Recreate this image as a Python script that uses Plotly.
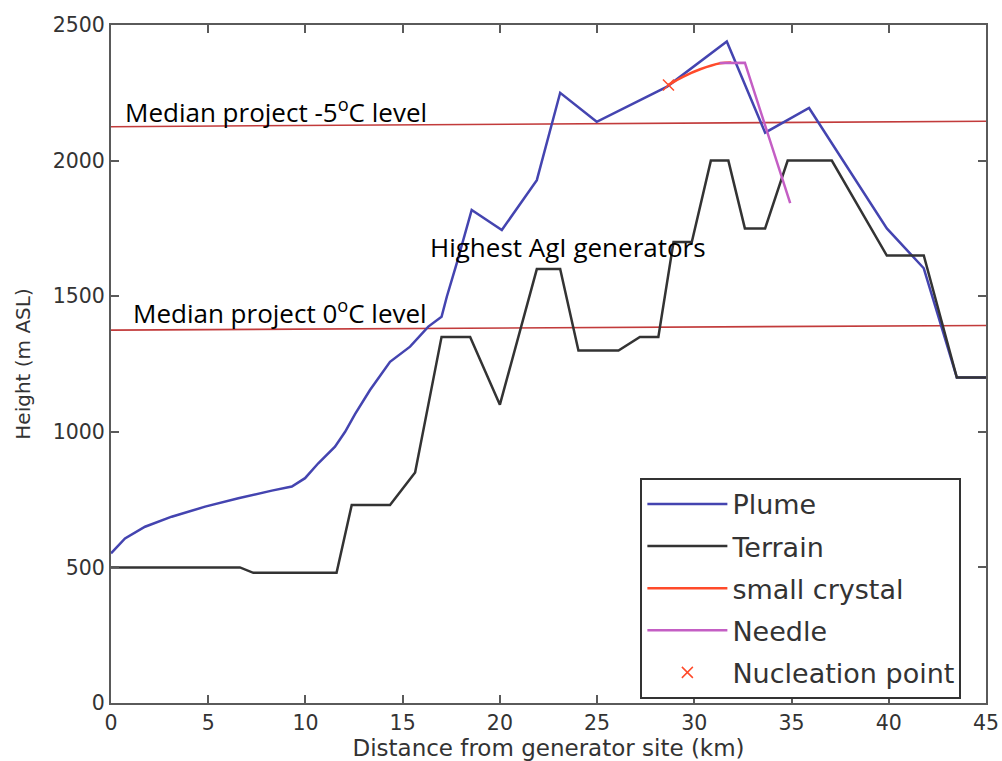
import plotly.graph_objects as go

# ── Data ──────────────────────────────────────────────────────────────────────
plume_x = [0, 0.72, 1.75, 3.12, 4.84, 6.55, 8.27, 9.3, 9.98, 10.66, 11.52,
           12.04, 12.55, 13.32, 14.35, 15.38, 16.32, 17.0, 17.27, 17.78, 18.55,
           20.1, 21.9, 23.1, 24.98, 28.6, 31.67, 33.64, 35.9, 39.9, 41.8,
           43.5, 45]
plume_h = [552, 607, 650, 687, 724, 755, 783, 798, 829, 884, 945,
           1000, 1065, 1154, 1258, 1314, 1388, 1424, 1498, 1621, 1818,
           1744, 1928, 2250, 2143, 2273, 2439, 2103, 2194, 1750, 1603,
           1200, 1200]

terrain_x = [0, 6.63, 7.32, 11.6, 12.38, 14.35, 15.64, 17.0, 18.47, 20.0,
             21.9, 23.1, 24.04, 26.1, 27.2, 28.15, 28.93, 29.87, 30.85, 31.75,
             32.6, 33.64, 34.8, 37.07, 39.9, 41.8, 43.5, 45]
terrain_h = [500, 500, 480, 480, 730, 730, 850, 1350, 1350, 1100,
             1600, 1600, 1300, 1300, 1350, 1350, 1700, 1700, 2000, 2000,
             1750, 1750, 2000, 2000, 1650, 1650, 1200, 1200]

crystal_x = [28.67, 29.44, 30.3, 31.33, 31.9]
crystal_h = [2279, 2310, 2337, 2359, 2362]

needle_x = [31.3, 32.6, 34.93]
needle_h = [2360, 2361, 1843]

nucleation_x = [28.67]
nucleation_h = [2279]

# freezing-level reference lines (slightly tilted in the original)
level_x = [0, 45]
level_m5_h = [2125, 2145]
level_0_h = [1375, 1392]

C = {
    "plume":   "#4444b0",
    "terrain": "#333333",
    "crystal": "#ff4a2a",
    "needle":  "#c45ec4",
    "level":   "#c23b3b",
    "axis":    "#5a5a5a",
}

fig = go.Figure()

fig.add_trace(go.Scatter(x=level_x, y=level_m5_h, mode="lines",
                         line=dict(color=C["level"], width=1.6), showlegend=False))
fig.add_trace(go.Scatter(x=level_x, y=level_0_h, mode="lines",
                         line=dict(color=C["level"], width=1.6), showlegend=False))

fig.add_trace(go.Scatter(x=plume_x, y=plume_h, mode="lines", name="Plume",
                         legendgroup="a", line=dict(color=C["plume"], width=2.5)))
fig.add_trace(go.Scatter(x=terrain_x, y=terrain_h, mode="lines", name="Terrain",
                         legendgroup="b", line=dict(color=C["terrain"], width=2.5)))
fig.add_trace(go.Scatter(x=crystal_x, y=crystal_h, mode="lines", name="small crystal",
                         legendgroup="c",
                         line=dict(color=C["crystal"], width=2.5, shape="spline")))
fig.add_trace(go.Scatter(x=needle_x, y=needle_h, mode="lines", name="Needle",
                         legendgroup="d", line=dict(color=C["needle"], width=2.5)))
fig.add_trace(go.Scatter(x=nucleation_x, y=nucleation_h, mode="markers",
                         name="Nucleation point", legendgroup="e",
                         marker=dict(symbol="x-thin", size=11, color=C["crystal"],
                                     line=dict(color=C["crystal"], width=1.5))))

txt = dict(family="Open Sans, Lato, sans-serif", size=26, color="black")
fig.add_annotation(x=0.62, y=2183, text="Median project -5<sup>o</sup>C level",
                   xanchor="left", yanchor="middle", showarrow=False, font=txt)
fig.add_annotation(x=1.05, y=1440, text="Median project 0<sup>o</sup>C level",
                   xanchor="left", yanchor="middle", showarrow=False, font=txt)
fig.add_annotation(x=16.3, y=1680, text="Highest AgI generators",
                   xanchor="left", yanchor="middle", showarrow=False, font=txt)

axis_common = dict(
    showline=True, linecolor=C["axis"], linewidth=2, mirror="ticks",
    ticks="inside", ticklen=8, tickwidth=1.5, tickcolor=C["axis"],
    showgrid=False, zeroline=False, automargin=False,
    tickfont=dict(family="DejaVu Sans", size=20.5, color="#333333"),
)

fig.update_xaxes(range=[0, 45], dtick=5, **axis_common,
                 title=dict(text="Distance from generator site (km)", standoff=8,
                            font=dict(family="DejaVu Sans", size=23, color="#333333")))
fig.update_yaxes(range=[0, 2500], dtick=500, **axis_common,
                 title=dict(text="Height (m ASL)", standoff=17,
                            font=dict(family="DejaVu Sans", size=20, color="#333333")))

fig.update_layout(
    width=1002, height=761,
    margin=dict(l=111, r=16, t=25, b=58, autoexpand=False),
    plot_bgcolor="white", paper_bgcolor="white",
    legend=dict(x=0.605, y=0.332, xanchor="left", yanchor="top",
                bordercolor="#333333", borderwidth=2, bgcolor="white",
                font=dict(family="DejaVu Sans", size=27, color="#333333"),
                tracegroupgap=4, itemwidth=80),
)

# drop the page's default body margin so the figure fills the window exactly
fig.write_html("out.html", config={"displayModeBar": False},
               post_script="document.body.style.margin='0px';")
